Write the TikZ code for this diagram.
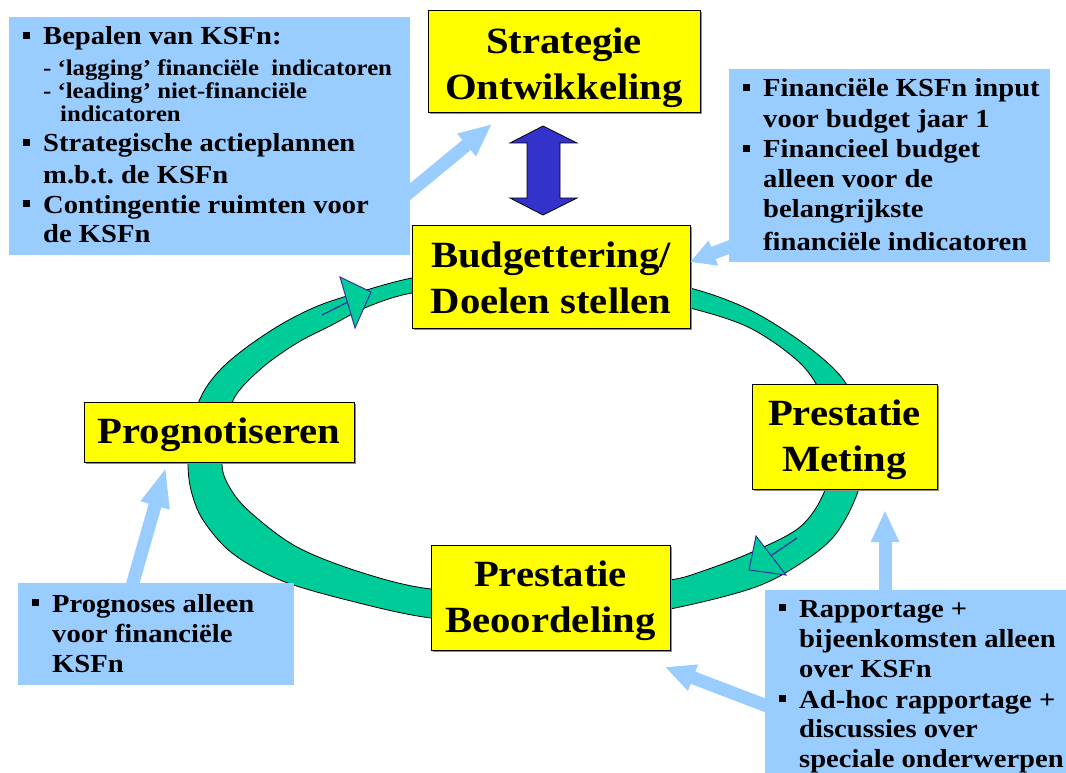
\documentclass[tikz,border=0pt]{standalone}
\usepackage{fontspec}
\setmainfont{Liberation Serif}[FakeStretch=1.1]
\usetikzlibrary{arrows.meta,shadows}
\definecolor{ylw}{HTML}{FFFF00}
\definecolor{lblue}{HTML}{99CCFF}
\definecolor{ringc}{HTML}{00CC99}
\definecolor{dblue}{HTML}{3333CC}
\definecolor{navyc}{HTML}{333399}
\newcommand\blt{\llap{\rule[6pt]{7pt}{7pt}\hspace{13pt}}}
\newcommand\tdown[1]{\rule{0pt}{#1}}
\frenchspacing
\tikzset{
  ybox/.style={draw=black, line width=0.8pt, fill=ylw, inner sep=0pt, align=center,
    font=\bfseries\fontsize{37}{46}\selectfont,
    drop shadow={shadow xshift=2pt, shadow yshift=-2pt, fill=black!45, opacity=1}},
  bbox/.style={fill=lblue, inner sep=0pt, anchor=north west},
  ln/.style={anchor=base west, inner sep=0pt, font=\bfseries\fontsize{26}{30}\selectfont},
  subln/.style={anchor=base west, inner sep=0pt, font=\bfseries\fontsize{22.5}{23}\selectfont},
  barrow/.style={draw=lblue, line width=13pt},
  ringarr/.style={draw=navyc, line width=1pt, fill=ringc, line join=miter},
  ringstem/.style={draw=navyc, line width=1.3pt},
}
\begin{document}
\begin{tikzpicture}[x=1pt,y=-1pt]
\useasboundingbox (0,0) rectangle (1066,773);
\fill[white] (0,0) rectangle (1066,773);

% ring
\path[fill=ringc, draw=black, line width=0.8pt, even odd rule]
  plot[smooth cycle, tension=0.55] coordinates {
    (188,460) (192,422) (204,391) (222,368) (247,347) (280,325) (313,308) (347,296)
    (412,278) (480,271) (550,270) (620,276) (690,288) (750,310) (807,346) (845,382)
    (864,430) (860,485) (835,535) (795,567) (750,589) (670,609) (600,618) (520,621)
    (431,618) (347,600) (280,580) (232,553) (203,520) (191,490)}
  plot[smooth cycle, tension=0.55] coordinates {
    (222,465) (226,425) (236,395) (263,367) (297,343) (330,326) (367,307) (412,293)
    (480,287) (550,287) (620,294) (690,308) (750,328) (800,363) (823,398) (833,442)
    (825,490) (800,527) (750,553) (700,572) (670,580) (600,588) (520,591) (431,589)
    (363,573) (297,547) (250,512) (230,488)};

% direction arrows on the ring
\draw[ringstem] (322,315) -- (348,302);
\draw[ringarr] (340,277) -- (371,292) -- (355,328) -- cycle;
\draw[ringstem] (797,538) -- (772,555);
\draw[ringarr] (756,536) -- (749,570) -- (786,575) -- cycle;

% yellow boxes
\node[ybox, minimum width=272pt, minimum height=102pt] (strat) at (564,61) {\tdown{39.5pt}Strategie\\Ontwikkeling};
\node[ybox, minimum width=278pt, minimum height=103pt] (budg) at (551,276.5) {\tdown{28pt}Budgettering/\\Doelen stellen};
\node[ybox, minimum width=270pt, minimum height=60pt] (progn) at (219,432) {\tdown{31pt}Prognotiseren};
\node[ybox, minimum width=185pt, minimum height=105pt] (meting) at (844.5,436.5) {\tdown{32pt}Prestatie\\Meting};
\node[ybox, minimum width=239pt, minimum height=105pt] (beoord) at (550.5,597.5) {\tdown{32pt}Prestatie\\Beoordeling};

% light blue arrows
\coordinate (a1s) at (400,200); \coordinate (a1e) at (492,124);
\coordinate (a2s) at (745,241); \coordinate (a2e) at (690,262);
\coordinate (a3s) at (128,600); \coordinate (a3e) at (166,467);
\coordinate (a4s) at (885,600); \coordinate (a4e) at (885,510);
\coordinate (a5s) at (780,711); \coordinate (a5e) at (665,667);
\draw[barrow, -{Triangle[length=33pt,width=27pt]}] (a1s) -- (a1e);
\draw[barrow, -{Triangle[length=25pt,width=25pt]}] (a2s) -- (a2e);
\draw[barrow, -{Triangle[length=40pt,width=27pt]}] (a3s) -- (a3e);
\draw[barrow, -{Triangle[length=32pt,width=26pt]}] (a4s) -- (a4e);
\draw[barrow, -{Triangle[length=30pt,width=26pt]}] (a5s) -- (a5e);

% light blue boxes
\node[bbox, minimum width=401pt, minimum height=238pt] (tl) at (9,17) {};
\node[bbox, minimum width=321pt, minimum height=193pt] (tr) at (729,69) {};
\node[bbox, minimum width=276pt, minimum height=102pt] (bl) at (18,583) {};
\node[bbox, minimum width=301pt, minimum height=183pt] (br) at (765,590) {};

% texts top-left
\node[ln] (tl1) at (43,45) {\blt Bepalen van KSFn:};
\node[subln] (tl2) at (43,76) {- `lagging' financi\"ele\ \ indicatoren};
\node[subln] (tl3) at (43,99) {- `leading' niet-financi\"ele};
\node[subln] (tl4) at (60,122) {indicatoren};
\node[ln] (tl5) at (43,152) {\blt Strategische actieplannen};
\node[ln] (tl6) at (43,183) {m.b.t. de KSFn};
\node[ln] (tl7) at (43,213) {\blt Contingentie ruimten voor};
\node[ln] (tl8) at (43,242) {de KSFn};

% texts top-right
\node[ln] (tr1) at (763,97) {\blt Financi\"ele KSFn input};
\node[ln] (tr2) at (763,128) {voor budget jaar 1};
\node[ln] (tr3) at (763,158) {\blt Financieel budget};
\node[ln] (tr4) at (763,188) {alleen voor de};
\node[ln] (tr5) at (763,218) {belangrijkste};
\node[ln] (tr6) at (763,250) {financi\"ele indicatoren};

% texts bottom-left
\node[ln] (bl1) at (52,612) {\blt Prognoses alleen};
\node[ln] (bl2) at (52,642) {voor financi\"ele};
\node[ln] (bl3) at (52,672) {KSFn};

% texts bottom-right
\node[ln] (br1) at (799,617) {\blt Rapportage +};
\node[ln] (br2) at (799,647) {bijeenkomsten alleen};
\node[ln] (br3) at (799,677) {over KSFn};
\node[ln] (br4) at (799,708) {\blt Ad-hoc rapportage +};
\node[ln] (br5) at (799,737) {discussies over};
\node[ln] (br6) at (799,767) {speciale onderwerpen};

% double arrow between Strategie and Budgettering
\draw[fill=dblue, draw=black, line width=0.8pt, line join=miter]
  (543,126) -- (577,143) -- (560,143) -- (560,198) -- (577,198) -- (543,215)
  -- (510,198) -- (527,198) -- (527,143) -- (510,143) -- cycle;
\end{tikzpicture}
\end{document}
